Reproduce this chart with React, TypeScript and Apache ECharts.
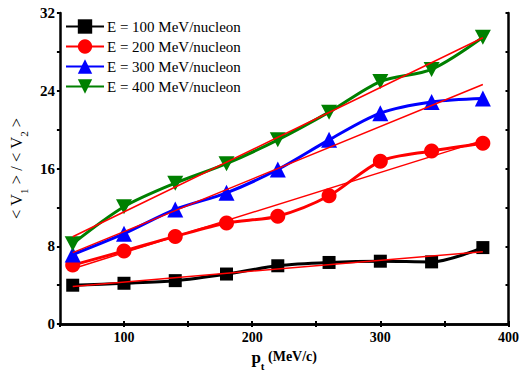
import React, { useEffect, useRef } from "react";
import * as echarts from "echarts";

const pt = [60, 100, 140, 180, 220, 260, 300, 340, 380];
const e100 = [4.0, 4.2, 4.47, 5.15, 6.0, 6.34, 6.47, 6.4, 7.87];
const e200 = [6.07, 7.52, 9.02, 10.4, 11.1, 13.2, 16.75, 17.8, 18.6];
const e300 = [7.15, 9.3, 11.8, 13.5, 15.9, 18.95, 21.7, 22.85, 23.2];
const e400 = [8.27, 12.07, 14.5, 16.5, 18.95, 21.8, 24.95, 26.2, 29.5];
const fitX = [60, 380];
const fit100 = [3.88, 7.45];
const fit200 = [5.7, 18.9];
const fit300 = [7.35, 24.65];
const fit400 = [8.98, 29.45];
const seriesNames = [
  "E = 100 MeV/nucleon",
  "E = 200 MeV/nucleon",
  "E = 300 MeV/nucleon",
  "E = 400 MeV/nucleon",
];
const colors = ["#000000", "#ff0000", "#0000ff", "#008000"];
const symbols = ["rect", "circle", "triangle", "path://M0,0 L10,0 L5,9 Z"];
const symbolSizes: any[] = [13, 15, 16, [16, 15]];

const FONT = "'Liberation Serif', 'Times New Roman', serif";

export default function App() {
  const ref = useRef<HTMLDivElement>(null);
  useEffect(() => {
    if (!ref.current) return;
    const chart = echarts.init(ref.current, null, { renderer: "svg" });
    const dataSets = [e100, e200, e300, e400];
    const fits = [fit100, fit200, fit300, fit400];
    const series: any[] = dataSets.map((d, i) => ({
      name: seriesNames[i],
      type: "line",
      smooth: 0.3,
      data: pt.map((x, j) => [x, d[j]]),
      symbol: symbols[i],
      symbolSize: symbolSizes[i],
      showSymbol: true,
      itemStyle: { color: colors[i] },
      lineStyle: { color: colors[i], width: 3 },
      z: 2,
    }));
    fits.forEach((f, i) => {
      series.push({
        name: "fit" + i,
        type: "line",
        data: fitX.map((x, j) => [x, f[j]]),
        symbol: "none",
        lineStyle: { color: "#ff0000", width: 1.5 },
        z: 3,
      });
    });
    const axisLine = { show: true, lineStyle: { color: "#000", width: 2.5 } };
    chart.setOption({
      animation: false,
      textStyle: { fontFamily: FONT },
      grid: { left: 56, right: 11, top: 13, bottom: 48 },
      legend: {
        data: seriesNames,
        orient: "vertical",
        left: 60,
        top: 14,
        itemWidth: 38,
        itemHeight: 18,
        itemGap: 5,
        textStyle: { fontFamily: FONT, fontSize: 15, color: "#000", padding: [0, 0, 0, -2] },
      },
      xAxis: [
        {
          type: "value",
          min: 50,
          max: 400,
          interval: 50,
          axisLine,
          axisTick: { show: true, inside: true, length: 3, lineStyle: { color: "#000", width: 2 } },
          splitLine: { show: false },
          axisLabel: {
            margin: 6,
            fontFamily: FONT,
            fontSize: 14,
            fontWeight: "bold",
            color: "#000",
            showMinLabel: false,
            formatter: (v: number) => (v % 100 === 0 ? String(v) : ""),
          },
          name: "{p|p}{t|t}{r| (MeV/c)}",
          nameLocation: "middle",
          nameGap: 22,
          nameTextStyle: {
            rich: {
              p: { fontFamily: FONT, fontSize: 17, fontWeight: "bold", color: "#000", lineHeight: 22, verticalAlign: "top" },
              t: { fontFamily: FONT, fontSize: 11, fontWeight: "bold", color: "#000", lineHeight: 11, verticalAlign: "bottom" },
              r: { fontFamily: FONT, fontSize: 14, fontWeight: "bold", color: "#000", lineHeight: 22, verticalAlign: "top" },
            },
          },
        },
        {
          type: "value",
          position: "top",
          min: 50,
          max: 400,
          interval: 50,
          axisLine,
          axisTick: { show: true, inside: true, length: 3, lineStyle: { color: "#000", width: 2 } },
          axisLabel: { show: false },
          splitLine: { show: false },
        },
      ],
      yAxis: [
        {
          type: "value",
          min: 0,
          max: 32,
          interval: 4,
          axisLine,
          axisTick: { show: true, inside: false, length: 3, lineStyle: { color: "#000", width: 2 } },
          splitLine: { show: false },
          axisLabel: {
            margin: 5,
            fontFamily: FONT,
            fontSize: 15,
            fontWeight: "bold",
            color: "#000",
            formatter: (v: number) => (v % 8 === 0 ? String(v) : ""),
          },
          name: "{m|< V}{s|1}{m| > / < V}{s|2}{m| >}",
          nameLocation: "middle",
          nameGap: 27,
          nameRotate: 90,
          nameTextStyle: {
            rich: {
              m: { fontFamily: FONT, fontSize: 16.5, color: "#000", lineHeight: 21, verticalAlign: "top" },
              s: { fontFamily: FONT, fontSize: 11, color: "#000", lineHeight: 11, verticalAlign: "bottom" },
            },
          },
        },
        {
          type: "value",
          position: "right",
          min: 0,
          max: 32,
          interval: 4,
          axisLine,
          axisTick: { show: true, inside: true, length: 3, lineStyle: { color: "#000", width: 2 } },
          axisLabel: { show: false },
          splitLine: { show: false },
        },
      ],
      series,
    });
    return () => chart.dispose();
  }, []);
  return <div ref={ref} style={{ width: 522, height: 376, position: "absolute", left: 0, top: 0 }} />;
}
